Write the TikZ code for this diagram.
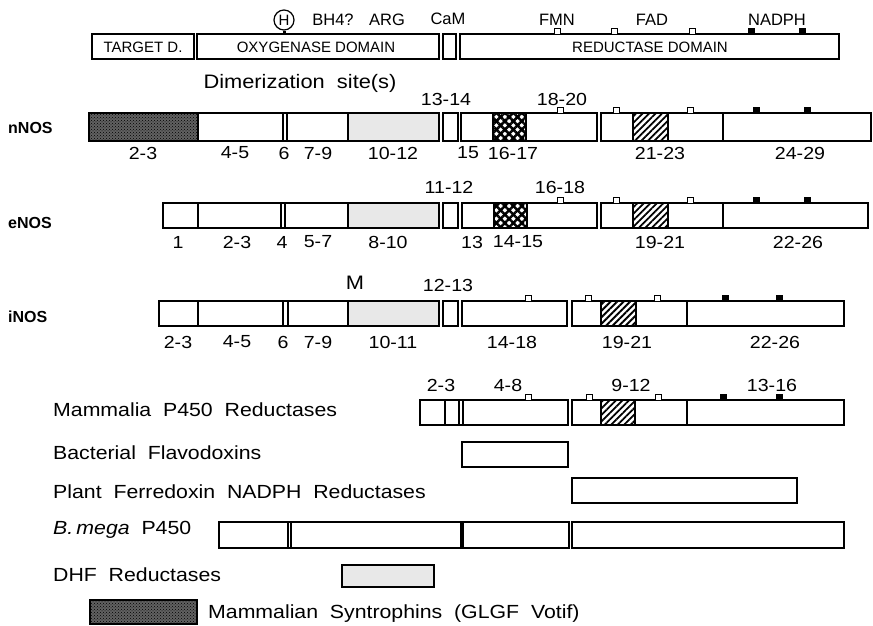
\documentclass[tikz,border=0pt]{standalone}
\usepackage{fontspec}
\setmainfont{Liberation Sans}
\newfontfamily\lblfont[FakeStretch=1.12]{Liberation Sans}
\usetikzlibrary{patterns,patterns.meta}
\tikzset{
  bx/.style={draw, line width=1.1pt},
  greybox/.style={bx, fill=black!9},
  stip/.style={bx, preaction={fill=black!62}, pattern=crosshatch dots, pattern color=black},
  xhatch/.style={bx, preaction={pattern={Lines[angle=45,distance=6pt,line width=2.5pt]}},
                 pattern={Lines[angle=-45,distance=6pt,line width=2.5pt]}},
  dhatch/.style={bx, pattern={Lines[angle=45,distance=4.6pt,line width=1.8pt]}},
  sqo/.style={draw, line width=0.9pt, fill=white},
  sqf/.style={draw, line width=0.9pt, fill=black},
  toptxt/.style={font=\fontsize{16.5}{16.5}\selectfont, inner sep=0pt},
  intxt/.style={font=\fontsize{15}{15}\selectfont, inner sep=0pt},
  rowlbl/.style={font=\fontsize{16}{16}\selectfont\bfseries, anchor=west, inner sep=0pt},
  num/.style={font=\lblfont\fontsize{17.5}{17.5}\selectfont, inner sep=0pt},
  desc/.style={font=\lblfont\fontsize{19}{19}\selectfont, anchor=west, inner sep=0pt},
  big/.style={font=\lblfont\fontsize{19.5}{19.5}\selectfont, inner sep=0pt}
}
\newcommand{\osq}[2]{\draw[sqo] ({#1-3},{#2-6}) rectangle ({#1+3},{#2});}
\newcommand{\fsq}[2]{\draw[sqf] ({#1-3},{#2-6}) rectangle ({#1+3},{#2});}
\begin{document}
\begin{tikzpicture}[x=1pt,y=-1pt]
\useasboundingbox (0,0) rectangle (873,626);
% ---------- top domain bar ----------
\draw[bx] (92,34) rectangle (194,59);
\draw[bx] (197,34) rectangle (439,59);
\draw[bx] (443,34) rectangle (456,59);
\draw[bx] (460,34) rectangle (839,59);
\node[intxt] (td) at (143,47) {TARGET D.};
\node[intxt] (oxy) at (316,47) {OXYGENASE DOMAIN};
\node[intxt] (red) at (650,47) {REDUCTASE DOMAIN};
\osq{557}{34}\osq{614}{34}\osq{692}{34}
\fsq{751}{34}\fsq{802}{34}
\node[draw, circle, line width=1.2pt, inner sep=0pt, minimum size=20pt, font=\fontsize{15}{15}\selectfont] (hcirc) at (284,20) {H};
\coordinate (htick) at (284,34);
\draw[line width=3pt] (hcirc.south) -- (htick);
\node[toptxt] (bh4) at (333,20) {BH4?};
\node[toptxt] (arg) at (387,20) {ARG};
\node[toptxt] (cam) at (448,19) {CaM};
\node[toptxt] (fmn) at (557,20) {FMN};
\node[toptxt] (fad) at (652,20) {FAD};
\node[toptxt] (nadph) at (777,20) {NADPH};
% ---------- nNOS ----------
\node[big] (dimer) at (300,83) {Dimerization\ \ site(s)};
\node[rowlbl] (nnos) at (8,128) {nNOS};
\draw[stip] (89,113) rectangle (198,141);
\draw[bx] (198,113) rectangle (283,141);
\draw[bx] (283,113) rectangle (287,141);
\draw[bx] (287,113) rectangle (348,141);
\draw[greybox] (348,113) rectangle (439,141);
\draw[bx] (443,113) rectangle (458,141);
\draw[bx] (461,113) rectangle (493,141);
\draw[xhatch] (493,113) rectangle (526,141);
\draw[bx] (526,113) rectangle (597,141);
\draw[bx] (601,113) rectangle (723,141);
\draw[dhatch] (633,113) rectangle (668,141);
\draw[bx] (723,113) rectangle (871,141);
\osq{560}{113}\osq{616}{113}\osq{690}{113}
\fsq{756}{113}\fsq{807}{113}
\node[num] (n1314) at (446,99) {13-14};
\node[num] (n1820) at (562,99) {18-20};
\node[num] (n23) at (143,153) {2-3};
\node[num] (n45) at (235,153) {4-5};
\node[num] (n6) at (284,153) {6};
\node[num] (n79) at (318,153) {7-9};
\node[num] (n1012) at (393,153) {10-12};
\node[num] (n15) at (468,153) {15};
\node[num] (n1617) at (513,153) {16-17};
\node[num] (n2123) at (660,153) {21-23};
\node[num] (n2429) at (800,153) {24-29};
% ---------- eNOS ----------
\node[rowlbl] (enos) at (8,223) {eNOS};
\draw[bx] (163,203) rectangle (198,228);
\draw[bx] (198,203) rectangle (281,228);
\draw[bx] (281,203) rectangle (285,228);
\draw[bx] (285,203) rectangle (348,228);
\draw[greybox] (348,203) rectangle (439,228);
\draw[bx] (443,203) rectangle (458,228);
\draw[bx] (462,203) rectangle (494,228);
\draw[xhatch] (494,203) rectangle (527,228);
\draw[bx] (527,203) rectangle (597,228);
\draw[bx] (601,203) rectangle (723,228);
\draw[dhatch] (633,203) rectangle (668,228);
\draw[bx] (723,203) rectangle (868,228);
\osq{560}{203}\osq{616}{203}\osq{690}{203}
\fsq{756}{203}\fsq{807}{203}
\node[num] (e1112) at (449,187) {11-12};
\node[num] (e1618) at (560,187) {16-18};
\node[num] (e1) at (178,242) {1};
\node[num] (e23) at (237,242) {2-3};
\node[num] (e4) at (282,242) {4};
\node[num] (e57) at (318,242) {5-7};
\node[num] (e810) at (388,242) {8-10};
\node[num] (e13) at (472,242) {13};
\node[num] (e1415) at (518,242) {14-15};
\node[num] (e1921) at (660,242) {19-21};
\node[num] (e2226) at (798,242) {22-26};
% ---------- iNOS ----------
\node[rowlbl] (inos) at (8,317) {iNOS};
\node[big] (mlbl) at (355,283) {M};
\draw[bx] (159,301) rectangle (198,326);
\draw[bx] (198,301) rectangle (283,326);
\draw[bx] (283,301) rectangle (288,326);
\draw[bx] (288,301) rectangle (348,326);
\draw[greybox] (348,301) rectangle (439,326);
\draw[bx] (443,301) rectangle (458,326);
\draw[bx] (462,301) rectangle (567,326);
\draw[bx] (572,301) rectangle (687,326);
\draw[dhatch] (601,301) rectangle (636,326);
\draw[bx] (687,301) rectangle (844,326);
\osq{528}{301}\osq{588}{301}\osq{657}{301}
\fsq{725}{301}\fsq{779}{301}
\node[num] (i1213) at (448,285) {12-13};
\node[num] (i23) at (178,342) {2-3};
\node[num] (i45) at (237,342) {4-5};
\node[num] (i6) at (283,342) {6};
\node[num] (i79) at (318,342) {7-9};
\node[num] (i1011) at (393,342) {10-11};
\node[num] (i1418) at (512,342) {14-18};
\node[num] (i1921) at (627,342) {19-21};
\node[num] (i2226) at (775,342) {22-26};
% ---------- Mammalia P450 reductases ----------
\node[desc] (mam) at (53,410) {Mammalia\ \ P450\ \ Reductases};
\draw[bx] (420,400) rectangle (445,425);
\draw[bx] (445,400) rectangle (459,425);
\draw[bx] (459,400) rectangle (463,425);
\draw[bx] (463,400) rectangle (568,425);
\draw[bx] (572,400) rectangle (687,425);
\draw[dhatch] (601,400) rectangle (635,425);
\draw[bx] (687,400) rectangle (844,425);
\osq{528}{400}\osq{589}{400}\osq{658}{400}
\fsq{723}{400}\fsq{779}{400}
\node[num] (m23) at (441,385) {2-3};
\node[num] (m48) at (508,385) {4-8};
\node[num] (m912) at (631,385) {9-12};
\node[num] (m1316) at (772,385) {13-16};
% ---------- Bacterial flavodoxins ----------
\node[desc] (bac) at (53,453) {Bacterial\ \ Flavodoxins};
\draw[bx] (462,442) rectangle (568,467);
% ---------- Plant ferredoxin ----------
\node[desc] (plant) at (53,492) {Plant\ \ Ferredoxin\ \ NADPH\ \ Reductases};
\draw[bx] (572,478) rectangle (797,503);
% ---------- B. mega ----------
\node[desc] (bmega) at (53,530) {\itshape B.\,mega\upshape\ \ P450};
\draw[bx] (219,522) rectangle (288,548);
\draw[bx] (288,522) rectangle (291,548);
\draw[bx] (291,522) rectangle (461,548);
\draw[bx] (461,522) rectangle (463,548);
\draw[bx] (463,522) rectangle (569,548);
\draw[bx] (572,522) rectangle (844,548);
% ---------- DHF ----------
\node[desc] (dhf) at (53,575) {DHF\ \ Reductases};
\draw[greybox] (342,565) rectangle (434,587);
% ---------- legend ----------
\draw[stip] (90,600) rectangle (197,624);
\node[desc] (leg) at (208,614) {Mammalian\ \ Syntrophins\ \ (GLGF\ \ Votif)};
\end{tikzpicture}
\end{document}
